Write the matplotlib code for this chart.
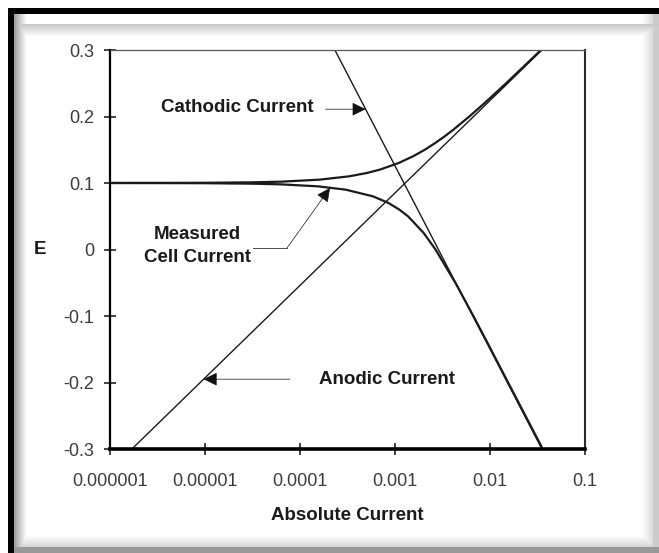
import matplotlib
matplotlib.use("Agg")
import matplotlib.pyplot as plt
import numpy as np

plt.rcParams["font.family"] = ["Liberation Sans", "DejaVu Sans"]

# straight Tafel lines (end points on the plot frame)
anodic_current = [1.7e-6, 0.0352]
anodic_E = [-0.3, 0.3]
cathodic_current = [2.33e-4, 0.0352]
cathodic_E = [0.3, -0.3]

# measured cell current, branch above the corrosion potential
upper_E = [0.10003, 0.1003, 0.101, 0.102, 0.105, 0.11, 0.115, 0.12, 0.13, 0.14,
           0.15, 0.16, 0.17, 0.18, 0.2, 0.22, 0.25, 0.3]
upper_current = [1.0e-6, 9.4e-6, 3.16e-5, 6.34e-5, 1.60e-4, 3.28e-4, 5.04e-4,
                 6.89e-4, 1.09e-3, 1.54e-3, 2.06e-3, 2.64e-3, 3.32e-3, 4.10e-3,
                 6.06e-3, 8.74e-3, 1.48e-2, 3.44e-2]

# measured cell current, branch below the corrosion potential
lower_E = [0.09997, 0.0997, 0.099, 0.098, 0.095, 0.09, 0.08, 0.07, 0.06, 0.05,
           0.025, 0.0, -0.05, -0.1, -0.15, -0.2, -0.25, -0.3]
lower_current = [1.0e-6, 9.4e-6, 3.13e-5, 6.23e-5, 1.54e-4, 3.02e-4, 5.85e-4,
                 8.53e-4, 1.11e-3, 1.37e-3, 2.00e-3, 2.67e-3, 4.32e-3,
                 6.68e-3, 1.02e-2, 1.55e-2, 2.36e-2, 3.59e-2]

x_ticks = [1e-6, 1e-5, 1e-4, 1e-3, 1e-2, 1e-1]
x_tick_labels = ["0.000001", "0.00001", "0.0001", "0.001", "0.01", "0.1"]
y_ticks = [0.3, 0.2, 0.1, 0.0, -0.1, -0.2, -0.3]
y_tick_labels = ["0.3", "0.2", "0.1", "0", "-0.1", "-0.2", "-0.3"]

W, H = 659, 553
fig = plt.figure(figsize=(W / 100, H / 100), dpi=100)

# bevelled frame drawn as a grey-level image behind everything
frame = np.ones((H, W))
for k in range(12):
    frame[24 + k, 14:] = np.minimum(frame[24 + k, 14:], 0.78 + 0.22 * k / 12)
    frame[14:, 14 + k] = np.minimum(frame[14:, 14 + k], 0.62 + 0.38 * k / 12)
    frame[:, W - 6 - k] = np.minimum(frame[:, W - 6 - k], 0.85 + 0.15 * k / 12)
    frame[H - 6 - k, :] = np.minimum(frame[H - 6 - k, :], 0.82 + 0.18 * k / 12)
frame[H - 6:, :] = np.minimum(frame[H - 6:, :], 0.6)
frame[:, W - 6:] = np.minimum(frame[:, W - 6:], 0.8)
frame[8:14, 8:] = 0.0
frame[8:, 8:14] = 0.0
frame[:8, :] = 1.0
frame[:, :8] = 1.0

bg = fig.add_axes([0, 0, 1, 1], zorder=-1)
bg.imshow(frame, cmap="gray", vmin=0, vmax=1, aspect="auto", interpolation="nearest")
bg.set_axis_off()

ax = fig.add_axes([110 / W, 1 - 449 / H, 475 / W, 399 / H])
ax.set_xscale("log")
ax.set_xlim(1e-6, 0.1)
ax.set_ylim(-0.3, 0.3)

ax.plot(anodic_current, anodic_E, color="#1a1a1a", lw=1.0)
ax.plot(cathodic_current, cathodic_E, color="#1a1a1a", lw=1.0)
ax.plot(upper_current, upper_E, color="#1a1a1a", lw=1.6)
ax.plot(lower_current, lower_E, color="#1a1a1a", lw=1.6)

ax.set_xticks(x_ticks)
ax.set_xticklabels(x_tick_labels)
ax.set_yticks(y_ticks)
ax.set_yticklabels(y_tick_labels)
ax.minorticks_off()
ax.tick_params(axis="both", direction="inout", length=9, width=1.2, color="#222222",
               labelsize=13, labelcolor="#3c3c3c")
ax.tick_params(axis="x", pad=13)
ax.tick_params(axis="y", pad=7)

ax.spines["left"].set_linewidth(1.6)
ax.spines["bottom"].set_linewidth(2.6)
ax.spines["right"].set_linewidth(1.5)
ax.spines["right"].set_color("#2a2a2a")
ax.spines["top"].set_linewidth(0.9)
ax.spines["top"].set_color("#555555")
ax.spines["top"].set_linestyle((0, (2, 1)))

label_kw = dict(fontsize=13.5, fontweight="bold", color="#1a1a1a")
ax.set_xlabel("Absolute Current", labelpad=12, **label_kw)
ax.set_ylabel("E", rotation=0, va="center", **label_kw)
ax.yaxis.set_label_coords(-0.147, 0.5)

arrow_kw = dict(arrowstyle="-|>,head_length=0.85,head_width=0.42", mutation_scale=10,
                color="#111111", lw=0.5, shrinkA=0, shrinkB=0)

# cathodic label with arrow onto the cathodic line
tip_E = 0.211
tip_c = 10 ** np.interp(tip_E, cathodic_E[::-1], np.log10(cathodic_current)[::-1])
ax.text(2.17e-5, 0.213, "Cathodic Current", ha="center", va="center", **label_kw)
ax.annotate("", xy=(tip_c, tip_E), xytext=(1.85e-4, tip_E), arrowprops=arrow_kw)

# measured current label with bent leader onto the lower branch
ax.text(8.3e-6, 0.0053, "Measured\nCell Current", ha="center", va="center",
        linespacing=1.5, **label_kw)
ax.plot([3.2e-5, 7.3e-5], [0.0023, 0.0023], color="#333333", lw=0.6)
ax.annotate("", xy=(2.07e-4, 0.0925), xytext=(7.3e-5, 0.0023), arrowprops=arrow_kw)

# anodic label with arrow onto the anodic line
tip_E = -0.195
tip_c = 10 ** np.interp(tip_E, anodic_E, np.log10(anodic_current))
ax.text(8.24e-4, tip_E, "Anodic Current", ha="center", va="center", **label_kw)
ax.annotate("", xy=(tip_c, tip_E), xytext=(7.85e-5, tip_E), arrowprops=arrow_kw)

fig.savefig("out.png", dpi=100)
